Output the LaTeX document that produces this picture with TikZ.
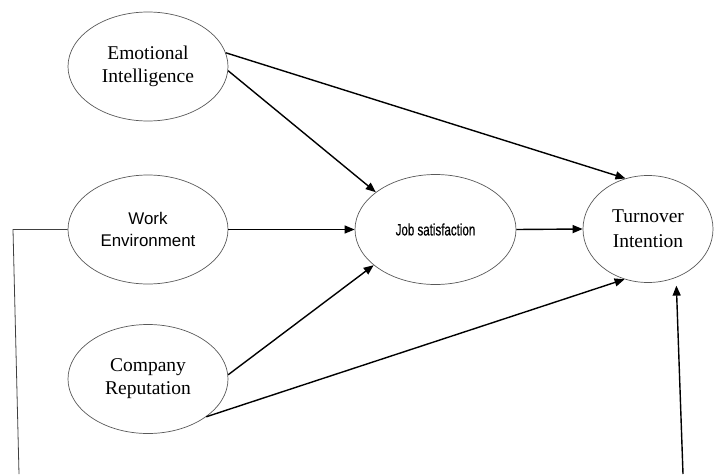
\documentclass[tikz,border=0pt]{standalone}
\usepackage{fontspec}
\setmainfont{Liberation Serif}
\newfontfamily\wesans{Liberation Sans}
\newfontfamily\narrowsans[FakeStretch=0.7,FakeBold=0.4]{Liberation Sans}
\usetikzlibrary{shapes.geometric,arrows.meta}
\begin{document}
\begin{tikzpicture}[x=1pt,y=-1pt,
  oval/.style={ellipse,draw=black!65,line width=0.7pt,inner sep=0pt,
    minimum width=160pt,minimum height=109pt,align=center},
  serifbig/.style={font=\fontsize{19.5}{23}\selectfont},
  arr/.style={-{Triangle[length=10pt,width=8pt]},line width=1.4pt,black},
  thinline/.style={line width=0.8pt,black!75}]
\useasboundingbox (0,0) rectangle (715,474);
\node[oval,serifbig] (ei) at (148,66.5) {Emotional\\Intelligence};
\node[oval,font=\wesans\fontsize{16.9}{22}\selectfont] (we) at (148,229.5) {Work\\Environment};
\node[oval,serifbig] (cr) at (148,379) {Company\\Reputation};
\node[oval,minimum width=161pt,minimum height=110pt,font=\narrowsans\fontsize{16.5}{19}\selectfont] (js) at (435.5,229.5) {Job satisfaction};
\node[oval,minimum width=130pt,minimum height=107pt,font=\fontsize{19.5}{25}\selectfont] (ti) at (648,229) {Turnover\\Intention};
\coordinate (lc) at (13,229.5);
\coordinate (lb) at (19,474);
\coordinate (rb) at (683,474);
\draw[arr] (ei.10.4) -- (ti.114.2);
\draw[arr] (ei.-3.2) -- (js.148.8);
\draw[arr] (we.east) -- (js.west);
\draw[arr] (js.east) -- (ti.west);
\draw[arr] (cr.3.6) -- (js.210);
\draw[arr] (cr.-33.9) -- (ti.245.8);
\draw[arr,shorten >=8pt] (rb) -- (ti.300);
\draw[thinline] (we.west) -- (lc) -- (lb);
\end{tikzpicture}
\end{document}
